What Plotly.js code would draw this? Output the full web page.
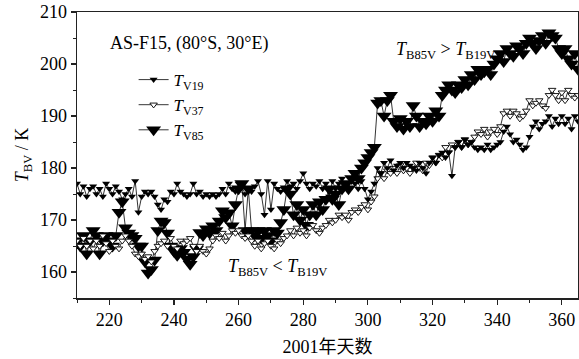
<!DOCTYPE html>
<html>
<head>
<meta charset="utf-8">
<script src="https://cdn.plot.ly/plotly-3.0.1.min.js"></script>
<style>
html,body{margin:0;padding:0;background:#fff;}
#chart{width:579px;height:359px;}
</style>
</head>
<body>
<div id="chart"></div>
<script>
// Day of year 2001
const days = [
210,211,212,213,214,215,216,217,218,219,
220,221,222,223,224,225,226,227,228,229,
230,231,232,233,234,235,236,237,238,239,
240,241,242,243,244,245,246,247,248,249,
250,251,252,253,254,255,256,257,258,259,
260,261,262,263,264,265,266,267,268,269,
270,271,272,273,274,275,276,277,278,279,
280,281,282,283,284,285,286,287,288,289,
290,291,292,293,294,295,296,297,298,299,
300,301,302,303,304,305,306,307,308,309,
310,311,312,313,314,315,316,317,318,319,
320,321,322,323,324,325,326,327,328,329,
330,331,332,333,334,335,336,337,338,339,
340,341,342,343,344,345,346,347,348,349,
350,351,352,353,354,355,356,357,358,359,
360,361,362,363,364,365];

// T_V19 (K)
const tv19 = [
177,175,176.5,174.5,176,176.5,175,176,174.5,177,
176,175,176.5,175.5,174,175,176,174.5,177.5,171.5,
174.5,175.5,175,175.5,174.5,173,172,174,173.5,175.5,
175,177,175.5,175,174.5,175,177,175,175.5,174.5,
175,174.5,175,174.5,175,176,175,177,176,175.5,
177,176.5,175,176,175.5,176.5,177.5,175,171,177.5,
172,177,176,175.5,176,177.5,176.5,177,176,177.5,
179,177,176,177,176.5,177.5,176,177,174.5,177.5,
176,177,178,176.5,177,178,177,176,177.5,176,
174,175.5,177,180,179,181,180,181.5,179.5,180.5,
181,180,181,180.5,180,179.5,181,180,179,181,
182,181,182.5,183,182,183,178.5,184,185,184,
185.5,184.5,185,184,183.5,184,183.5,184.5,183.5,184,
184.5,185,187,188,186.5,185,185.5,184.5,183.5,184,
186,188,189,187.5,188.5,189,190,188,189.5,188.5,
190,188.5,189.5,187.5,190,189];

// T_V37 (K)
const tv37 = [
166,165,166.5,165,166,164.5,166,165,167,165.5,
164,166,165,164.5,166,167,166,165,163.5,163,
163.5,162.5,163,162,164,165,165.5,166,165,166.5,
165,164.5,166,165.5,166,166.5,165,164,165,164,
163.5,164.5,166,167,166.5,167.5,166,167,168,167.5,
168,167,166.5,167,166,165,166,164.5,165.5,166,
165,164.5,166,165.5,166.5,167,168,167,168.5,167.5,
168,167,168.5,169,168,167.5,168.5,169,170,169.5,
170,171,170.5,171,170,171.5,172,171.5,172.5,173,
172,173.5,174.5,178,179,178,179.5,179,180,179,
180.5,179.5,180,179,180,181,180,179.5,181,180.5,
182,181,182.5,182,184,183,184.5,184,185,184,
185.5,184.5,185,186,187,186.5,187.5,186,187,187.5,
186.5,188,190.5,191,190,191,190.5,189.5,190,191,
193,192,192.5,193,192,191.5,194,195,194,193,
194.5,193,195,194,193.5,194];

// T_V85 (K)
const tv85 = [
166,165,167,163.5,166,168,167,163.5,166,167,
166,165,167,171.5,173.5,168.5,167.5,167,166.5,165,
165,162,159.8,160.5,162.3,168,169.8,169.5,167.5,165,
164,163.2,164.5,163.8,162.5,161.5,163,164.4,167.6,167,
168.3,167.5,168.9,168,169.8,171.8,170.5,171.4,168.9,173,
176,177,168,176,168,167,168,166.5,168,167,
166,168,167.5,169.5,172,176,175,171,173,170,
172,169,171,173,171,173.5,172,174,176,174,
175,173,176,177,176,178,179,178,180,181,
182,183,184,192.5,193,190,193,194,189,188,
189.5,187.5,189,188,192,190,188,189,188.5,190,
189,191,190,194,195,196,195,194.5,196,195.5,
197,196,198,197,199,198,198.5,199,198,200,
201,202,200.5,203,202,201.5,203.5,203,202,204,
205,204,203,204.5,205.5,204,206,205.5,205,203,
202,203,201,200,202,199];

const seriesNames = ['<i>T</i><sub>V19</sub>', '<i>T</i><sub>V37</sub>', '<i>T</i><sub>V85</sub>'];

const serif = '"Liberation Serif", "Times New Roman", "Noto Sans CJK SC", serif';
const lineStyle = {color: '#000', width: 0.8};

const traces = [
  {x: days, y: tv85, name: seriesNames[2], mode: 'lines+markers', legendrank: 3,
   line: lineStyle,
   marker: {symbol: 'triangle-down', size: 13, color: '#000', line: {width: 0}}},
  {x: days, y: tv37, name: seriesNames[1], mode: 'lines+markers', legendrank: 2,
   line: lineStyle,
   marker: {symbol: 'triangle-down', size: 6.5, color: '#fff', line: {color: '#000', width: 0.9}}},
  {x: days, y: tv19, name: seriesNames[0], mode: 'lines+markers', legendrank: 1,
   line: lineStyle,
   marker: {symbol: 'triangle-down', size: 7, color: '#000', line: {width: 0}}}
];

const axisCommon = {
  showgrid: false, zeroline: false, showline: true, mirror: true,
  linecolor: '#222', linewidth: 1.5,
  ticks: 'outside', ticklen: 5, tickwidth: 1.2, tickcolor: '#222',
  tickfont: {family: serif, size: 18, color: '#000'}
};

const layout = {
  width: 579, height: 359,
  margin: {l: 77, r: 1, t: 12, b: 61},
  paper_bgcolor: '#fff', plot_bgcolor: '#fff',
  font: {family: serif, color: '#000'},
  showlegend: true,
  legend: {x: 0.113, y: 0.825, xanchor: 'left', yanchor: 'top',
           bgcolor: 'rgba(0,0,0,0)', font: {family: serif, size: 17, color: '#000'},
           traceorder: 'normal', tracegroupgap: 2},
  xaxis: Object.assign({}, axisCommon, {
    range: [210, 365], dtick: 20, tick0: 0,
    minor: {dtick: 10, tick0: 0, ticks: 'outside', ticklen: 3, tickcolor: '#222', tickwidth: 1},
    title: {text: '2001年天数', font: {family: serif, size: 18, color: '#000'}, standoff: 11}
  }),
  yaxis: Object.assign({}, axisCommon, {
    range: [155, 210], dtick: 10, tick0: 0,
    minor: {dtick: 5, tick0: 0, ticks: 'outside', ticklen: 3, tickcolor: '#222', tickwidth: 1},
    title: {text: '<i>T</i><sub>BV</sub> / K', font: {family: serif, size: 18, color: '#000'}, standoff: 6}
  }),
  annotations: [
    {xref: 'paper', yref: 'paper', x: 0.062, y: 0.89, xanchor: 'left', yanchor: 'middle',
     text: 'AS-F15, (80°S, 30°E)', showarrow: false, font: {family: serif, size: 18, color: '#000'}},
    {xref: 'paper', yref: 'paper', x: 0.735, y: 0.867, xanchor: 'center', yanchor: 'middle',
     text: '<i>T</i><sub>B85V</sub> > <i>T</i><sub>B19V</sub>', showarrow: false, font: {family: serif, size: 18, color: '#000'}},
    {xref: 'paper', yref: 'paper', x: 0.401, y: 0.105, xanchor: 'center', yanchor: 'middle',
     text: '<i>T</i><sub>B85V</sub> < <i>T</i><sub>B19V</sub>', showarrow: false, font: {family: serif, size: 18, color: '#000'}}
  ]
};

Plotly.newPlot('chart', traces, layout, {displayModeBar: false, staticPlot: true});
</script>
</body>
</html>
